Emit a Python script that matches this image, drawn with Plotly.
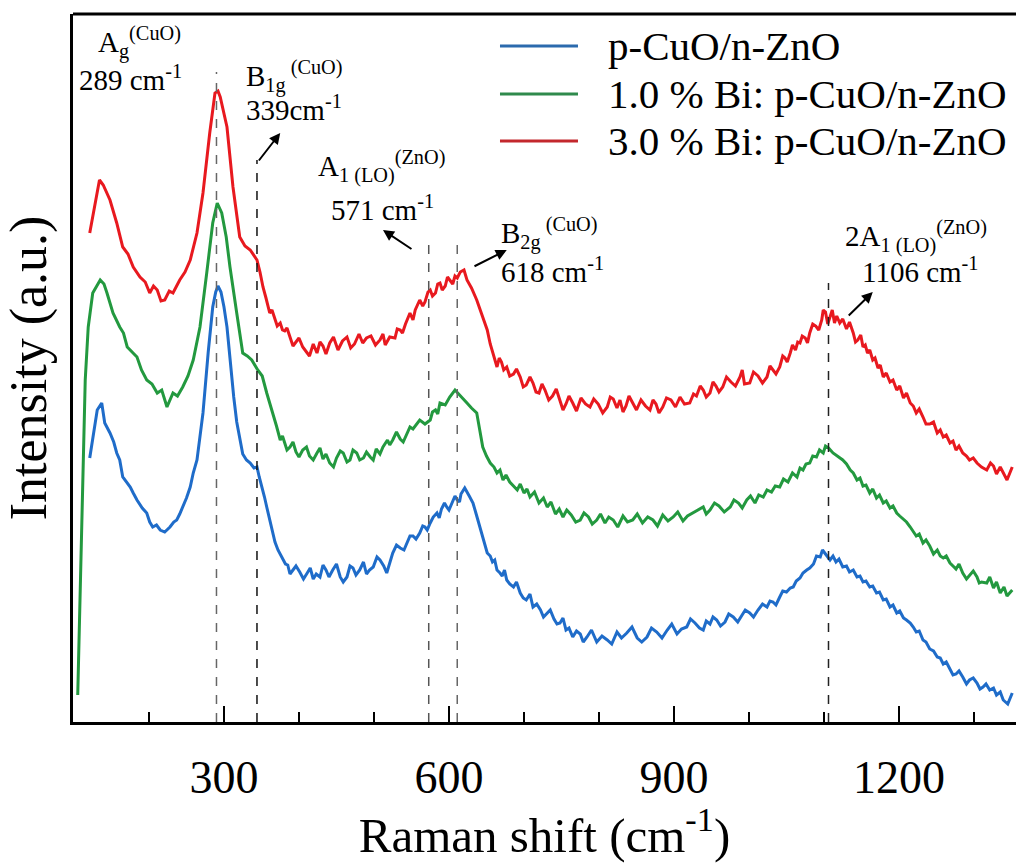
import plotly.graph_objects as go

# ---------------- data: (Raman shift cm-1, intensity a.u.) ----------------
red_points = [(121,489),(134,542),(139,537),(148,522),(157,499),(165,475),(172,468),(179,455),(188,445),(195,440),(201,429),(206,436),(211,432),(216,421),(221,422),(227,431),(232,429),(241,442),(248,450),(255,462),(264,489),(272,529),(281,589),(288,629),(292,631),(295,625),(304,595),(312,535),(321,485),(328,476),(335,472),
(344,462),(348,450),(352,435),(356,424),(361,409),(364,412),(368,404),(371,396),(375,399),(378,392),(381,391),(384,394),(388,385),(392,376),(396,380),(400,384),(405,375),(410,370),(414,366),(419,378),(424,369),(428,380),(432,376),(436,368),(441,379),(446,385),(452,372),(458,381),(464,385),(469,374),(474,378),(480,388),(485,379),(490,384),(496,386),(502,377),(508,382),(512,388),(515,377),(521,385),(528,384),(531,393),(535,392),(538,389),(542,398),(548,409),(552,402),(555,412),(561,422),(565,416),(568,420),(572,430),(575,432),(578,426),(582,429),(585,438),(588,439),(591,432),(595,436),(598,445),(601,442),(605,438),(608,446),(611,444),(615,450),(620,452),(624,442),(630,434),(637,422),(644,408),(651,392),(655,378),(658,370),(664,355),(667,364),(670,360),(673,352),(677,355),(681,346),(686,348),(690,353),(695,345),(699,335),(703,337),(708,345),(712,339),(716,330),(720,329),(724,338),(728,332),(733,322),(738,326),(743,333),(748,322),(752,312),(756,318),(760,326),(765,319),(770,311),(776,324),(782,318),(788,315),(793,323),(799,318),(805,309),(811,315),(815,325),(819,323),(824,314),(828,322),(832,310),(836,316),(840,326),(845,319),(850,312),(856,322),(862,316),(868,312),(872,322),(876,318),(880,309),(885,315),(890,324),(896,322),(902,315),(908,325),(914,318),(921,319),(926,328),(930,326),(935,336),(939,332),(943,325),(948,329),(952,340),(956,336),(960,330),(965,335),(970,345),(976,340),(982,336),(988,345),(991,352),(994,338),(1001,339),(1006,350),(1012,346),(1018,339),(1024,345),(1028,356),(1032,352),(1036,348),(1041,355),(1045,366),(1048,364),(1051,360),(1055,369),(1058,377),(1062,372),(1065,380),(1068,379),(1071,386),(1075,384),(1078,379),(1081,389),(1085,398),(1089,396),(1093,392),(1097,402),(1099,412),(1102,410),(1105,398),(1108,405),(1111,412),(1114,399),(1117,406),(1121,399),(1125,403),(1130,393),(1134,400),(1139,389),(1142,380),(1145,382),(1149,387),(1152,375),(1155,377),(1158,369),(1161,372),(1165,362),(1168,364),(1172,354),(1175,357),(1179,345),(1183,349),(1188,340),(1192,342),(1197,332),(1201,336),(1206,324),(1210,329),(1215,319),(1219,316),(1223,309),(1227,313),(1232,305),(1236,298),(1241,298),(1246,300),(1251,289),(1255,292),(1259,285),(1263,287),(1268,279),(1272,281),(1276,272),(1280,276),(1285,269),(1290,266),(1294,262),(1299,264),(1304,259),(1310,255),(1317,252),(1322,259),(1326,256),(1330,248),(1335,255),(1344,242),(1351,255)]

green_points = [(105,27),(115,342),(119,395),(125,429),(135,442),(140,438),(144,429),(152,409),(161,395),(166,389),(171,375),(178,370),(184,365),(190,352),(197,342),(204,338),(211,329),(217,332),(224,315),(232,329),(238,326),(245,335),(252,346),(259,362),(268,395),(277,449),(285,499),(291,519),(297,509),(303,485),(308,455),(317,409),(325,369),(331,366),(337,362),(345,352),(351,346),(357,329),(364,312),(370,296),(375,282),(378,286),(381,279),(384,272),(388,275),(392,280),(396,270),(400,265),(405,272),(410,275),(414,266),(419,262),(424,269),(428,274),(432,263),(436,268),(441,259),(446,255),(450,264),(455,271),(459,269),(464,260),(468,262),(472,272),(477,269),(481,262),(486,264),(490,270),(495,265),(499,262),(503,273),(508,268),(512,275),(518,282),(521,277),(525,282),(530,290),(535,283),(539,280),(544,289),(548,295),(552,293),(557,298),(561,302),(568,298),(575,302),(578,310),(582,312),(585,308),(588,319),(595,317),(601,325),(608,332),(616,326),(624,319),(630,314),(637,309),(641,292),(645,275),(650,266),(655,259),(660,255),(664,249),(668,252),(672,242),(676,247),(681,240),(686,236),(691,232),(695,238),(700,229),(704,233),(708,225),(714,230),(720,219),(726,224),(731,215),(736,220),(742,208),(747,213),(752,205),(757,212),(763,207),(769,200),(775,202),(780,209),(786,205),(791,198),(797,202),(802,208),(808,199),(813,205),(819,202),(825,195),(832,206),(838,200),(845,202),(851,208),(858,199),(865,205),(872,202),(878,196),(885,207),(892,201),(899,205),(905,210),(912,201),(918,206),(925,209),(932,212),(939,215),(943,208),(948,212),(954,219),(960,216),(967,210),(975,215),(980,222),(986,219),(991,214),(997,222),(1002,226),(1008,219),(1013,227),(1019,225),(1024,232),(1030,230),(1035,236),(1041,235),(1046,243),(1052,240),(1058,249),(1064,245),(1068,254),(1072,252),(1076,258),(1081,259),(1085,266),(1090,265),(1094,272),(1099,269),(1102,276),(1106,274),(1112,269),(1118,266),(1125,262),(1130,258),(1135,252),(1139,249),(1144,242),(1148,244),(1152,236),(1156,237),(1161,229),(1165,233),(1170,224),(1174,227),(1179,219),(1183,221),(1188,214),(1192,216),(1197,209),(1201,206),(1206,203),(1210,200),(1215,195),(1219,191),(1223,186),(1227,188),(1232,179),(1236,182),(1241,176),(1246,168),(1251,172),(1255,166),(1259,164),(1263,166),(1268,159),(1272,156),(1276,153),(1280,158),(1285,149),(1290,143),(1294,147),(1299,151),(1304,145),(1307,139),(1310,140),(1317,139),(1321,145),(1326,134),(1330,140),(1335,129),(1340,135),(1344,126),(1351,132)]

blue_points = [(121,264),(131,312),(137,319),(141,299),(148,289),(153,280),(157,269),(161,262),(165,245),(170,240),(175,235),(179,229),(184,222),(191,214),(197,209),(201,200),(205,195),(210,197),(215,192),(221,190),(228,195),(233,200),(237,202),(241,208),(245,215),(250,224),(255,235),(259,249),(264,262),(268,284),(272,309),(279,370),(285,415),(289,430),(292,436),(296,430),(300,415),(304,395),(308,362),(313,325),(317,300),(321,282),(325,268),(330,262),(335,259),(340,254),(344,255),(347,245),(351,235),(354,225),(357,215),(361,203),(365,189),(368,180),(372,172),(376,166),(379,162),(382,158),(385,157),(388,148),(392,152),(396,156),(401,150),(406,143),(411,149),(415,154),(419,143),(423,148),(428,145),(432,157),(436,152),(440,145),(445,152),(450,158),(455,145),(459,140),(464,145),(468,156),(472,154),(476,147),(481,152),(486,160),(490,148),(494,152),(499,155),(504,165),(508,162),(513,156),(517,149),(521,160),(525,169),(530,177),(535,174),(540,172),(544,179),(548,186),(552,186),(556,183),(561,189),(565,196),(568,195),(571,192),(575,199),(579,205),(584,209),(587,204),(590,213),(594,219),(597,215),(600,212),(604,219),(608,226),(611,222),(614,220),(616,228),(621,234),(627,226),(632,219),(637,206),(641,195),(646,181),(651,169),(655,166),(658,160),(661,162),(664,152),(668,149),(671,146),(674,152),(677,142),(681,138),(686,135),(690,140),(695,129),(699,124),(703,122),(708,128),(712,115),(717,118),(722,112),(726,105),(731,109),(735,112),(740,103),(744,98),(748,99),(752,104),(756,92),(760,94),(765,85),(770,91),(775,88),(779,80),(784,85),(790,92),(797,80),(804,86),(811,82),(817,78),(824,90),(830,84),(837,89),(844,95),(851,84),(857,80),(864,85),(870,94),(877,90),(884,84),(891,92),(897,98),(904,88),(910,93),(917,95),(922,103),(928,99),(934,94),(939,92),(943,101),(948,98),(952,105),(957,102),(962,96),(968,100),(973,108),(979,105),(985,100),(990,106),(995,112),(1001,109),(1006,105),(1012,112),(1018,118),(1024,115),(1028,121),(1032,120),(1036,117),(1041,125),(1045,131),(1050,130),(1055,134),(1059,135),(1063,141),(1068,144),(1072,149),(1077,152),(1081,154),(1086,158),(1090,166),(1095,165),(1098,172),(1102,168),(1108,162),(1112,166),(1116,160),(1120,163),(1125,155),(1130,156),(1134,150),(1139,152),(1144,145),(1148,146),(1152,140),(1156,141),(1161,135),(1165,136),(1170,129),(1174,130),(1179,122),(1183,123),(1188,115),(1192,117),(1197,109),(1201,111),(1206,104),(1210,102),(1215,99),(1219,95),(1223,90),(1227,91),(1232,82),(1236,80),(1241,73),(1246,71),(1251,65),(1255,64),(1259,58),(1263,60),(1268,52),(1272,47),(1276,48),(1280,51),(1285,45),(1290,38),(1294,42),(1299,44),(1304,39),(1308,33),(1312,35),(1316,38),(1321,32),(1326,34),(1330,27),(1335,30),(1339,22),(1345,18),(1351,29)]

series_names = ["p-CuO/n-ZnO", "1.0 % Bi: p-CuO/n-ZnO", "3.0 % Bi: p-CuO/n-ZnO"]
series_colors = ["#1f6cc9", "#23993f", "#e8191f"]
legend_colors = ["#2b6aad", "#2f8a4c", "#c3272c"]

peak_pos = [290, 344, 573, 611, 1106]
peak_top = [650, 562, 477, 477, 439]
peak_colors = ["#666666", "#111111", "#555555", "#666666", "#222222"]

x_ticks = [300, 600, 900, 1200]

FONT = "Liberation Serif, Times New Roman, serif"

fig = go.Figure()
for pts, name, col in [(blue_points, series_names[0], series_colors[0]),
                       (green_points, series_names[1], series_colors[1]),
                       (red_points, series_names[2], series_colors[2])]:
    xs = [p[0] for p in pts]
    ys = [p[1] for p in pts]
    fig.add_trace(go.Scatter(x=xs, y=ys, mode="lines", name=name,
                             line=dict(color=col, width=3), showlegend=False))

# dashed peak markers
for px, top, c in zip(peak_pos, peak_top, peak_colors):
    fig.add_shape(type="line", x0=px, x1=px, y0=0, y1=top, xref="x", yref="y",
                  line=dict(color=c, width=1.5, dash="dash"))

# top frame line
fig.add_shape(type="line", xref="paper", yref="paper", x0=0, x1=1, y0=1, y1=1,
              line=dict(color="black", width=3))

# legend (drawn by hand to get the long sample lines)
leg_y = [676, 628, 581]
for name, col, ly in zip(series_names, legend_colors, leg_y):
    fig.add_shape(type="line", xref="x", yref="y", x0=668, x1=772, y0=ly, y1=ly,
                  line=dict(color=col, width=3))
    fig.add_annotation(x=810, y=ly, xref="x", yref="y", text=name, showarrow=False,
                       xanchor="left", yanchor="middle",
                       font=dict(family=FONT, size=41, color="black"))

# peak labels
labels = [
    ("A<sub>g</sub><sup>(CuO)</sup>", 130, 680),
    ("289 cm<sup>-1</sup>", 104, 644),
    ("B<sub>1g</sub><sup> (CuO)</sup>", 327, 646),
    ("339cm<sup>-1</sup>", 327, 614),
    ("A<sub>1 (LO)</sub><sup>(ZnO)</sup>", 423, 556),
    ("571 cm<sup>-1</sup>", 440, 514),
    ("B<sub>2g</sub><sup> (CuO)</sup>", 667, 489),
    ("618 cm<sup>-1</sup>", 667, 452),
    ("2A<sub>1 (LO)</sub><sup>(ZnO)</sup>", 1125, 486),
    ("1106 cm<sup>-1</sup>", 1148, 452),
]
for t, x, y in labels:
    fig.add_annotation(x=x, y=y, xref="x", yref="y", text=t, showarrow=False,
                       xanchor="left", yanchor="middle",
                       font=dict(family=FONT, size=29, color="black"))

# arrows (head, tail)
arrows = [((375, 589), (345, 560)),
          ((512, 492), (552, 472)),
          ((677, 472), (632, 455)),
          ((1165, 430), (1131, 405))]
for (hx, hy), (tx, ty) in arrows:
    fig.add_annotation(x=hx, y=hy, ax=tx, ay=ty, xref="x", yref="y", axref="x", ayref="y",
                       text="", showarrow=True, arrowhead=2, arrowsize=1.1,
                       arrowwidth=2, arrowcolor="black")

fig.update_layout(
    width=1016, height=863,
    margin=dict(l=73, r=0, t=14, b=141),
    plot_bgcolor="white", paper_bgcolor="white",
    font=dict(family=FONT, color="black"),
    showlegend=False,
)
fig.update_xaxes(range=[98.7, 1356], showgrid=False, zeroline=False,
                 showline=True, linecolor="black", linewidth=3,
                 ticks="inside", tickvals=x_ticks, ticklen=16, tickwidth=2, tickcolor="black",
                 ticklabelstandoff=13,
                 minor=dict(ticks="inside", dtick=100, tick0=0, ticklen=10, tickwidth=2, tickcolor="black"),
                 tickfont=dict(family=FONT, size=46, color="black"),
                 title=dict(text="Raman shift (cm<sup>-1</sup>)", standoff=11,
                            font=dict(family=FONT, size=49, color="black")))
fig.update_yaxes(range=[0, 708], showgrid=False, zeroline=False,
                 showline=True, linecolor="black", linewidth=3,
                 showticklabels=False, ticks="",
                 title=dict(text="Intensity (a.u.)", standoff=10,
                            font=dict(family=FONT, size=52, color="black")))

fig.write_html("out.html")
